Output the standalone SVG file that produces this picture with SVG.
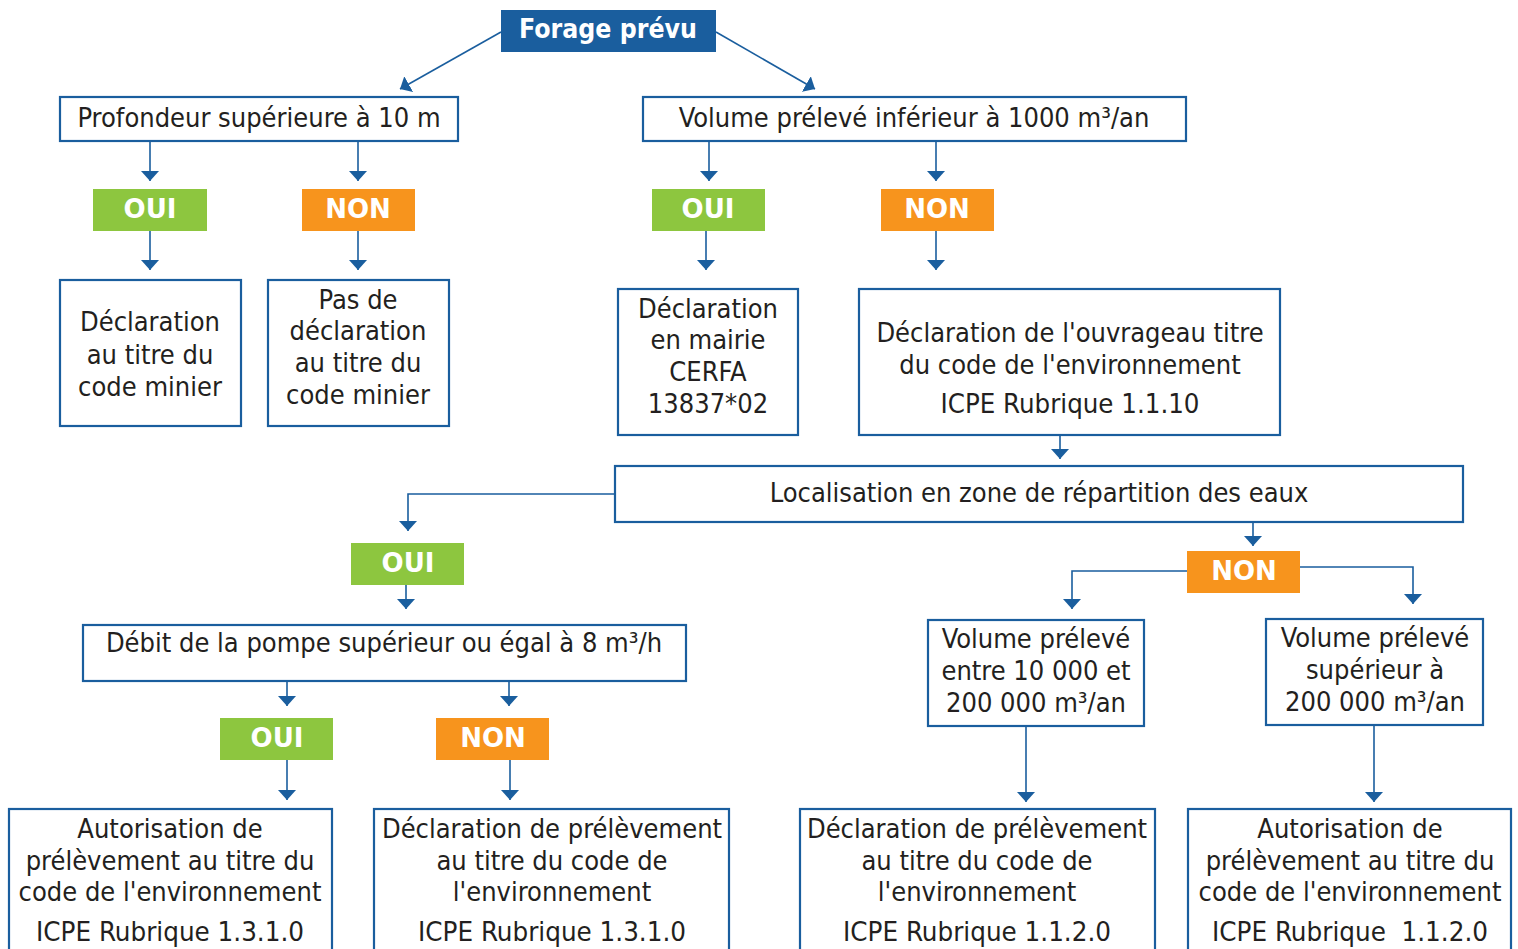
<svg xmlns="http://www.w3.org/2000/svg" width="1518" height="949" viewBox="0 0 1518 949">
<style>
.bx{fill:#fff;stroke:#1a5e9e;stroke-width:2.2}
.t{font-family:"DejaVu Sans Condensed","DejaVu Sans",sans-serif;font-stretch:condensed;font-size:27px;fill:#231f20;text-anchor:middle}
.lb{font-family:"DejaVu Sans","Liberation Sans",sans-serif;font-weight:bold;font-size:26px;fill:#fff;text-anchor:middle}
.oui{fill:#8dc63f}
.non{fill:#f7941d}
.cn{fill:none;stroke:#1a5e9e;stroke-width:1.6}
</style>
<defs>
<marker id="ah" viewBox="0 0 10 18" refX="10" refY="9" markerWidth="10" markerHeight="18" markerUnits="userSpaceOnUse" orient="auto">
<path d="M0,0 L10,9 L0,18 z" fill="#1a5e9e"/>
</marker>
</defs>
<rect width="1518" height="949" fill="#fff"/>
<g id="connectors" class="cn" marker-end="url(#ah)">
<path d="M501,32 L400,89"/>
<path d="M716,32 L815,89"/>
<path d="M150,141 V181"/>
<path d="M358,141 V181"/>
<path d="M150,231 V270"/>
<path d="M358,231 V270"/>
<path d="M709,141 V181"/>
<path d="M936,141 V181"/>
<path d="M706,231 V270"/>
<path d="M936,231 V270"/>
<path d="M1060,435 V459"/>
<path d="M615,494 H408 V531"/>
<path d="M406,585 V609"/>
<path d="M287,681 V706"/>
<path d="M509,681 V706"/>
<path d="M287,760 V800"/>
<path d="M510,760 V800"/>
<path d="M1253,522 V546"/>
<path d="M1187,571 H1072 V609"/>
<path d="M1300,567 H1413 V604"/>
<path d="M1026,726 V802"/>
<path d="M1374,725 V802"/>
</g>
<g id="forage">
<rect x="501" y="10" width="215" height="42" fill="#1a5e9e"/>
<text class="lb" x="608" y="38" textLength="178" lengthAdjust="spacingAndGlyphs">Forage prévu</text>
</g>
<g id="profondeur">
<rect class="bx" x="60" y="97" width="398" height="44"/>
<text class="t" x="259" y="127">Profondeur supérieure à 10 m</text>
</g>
<g id="volume">
<rect class="bx" x="643" y="97" width="543" height="44"/>
<text class="t" x="914" y="127">Volume prélevé inférieur à 1000 m³/an</text>
</g>
<g id="oui1"><rect class="oui" x="93" y="189" width="114" height="42"/><text class="lb" x="150" y="218">OUI</text></g>
<g id="non1"><rect class="non" x="302" y="189" width="113" height="42"/><text class="lb" x="358" y="218">NON</text></g>
<g id="oui2"><rect class="oui" x="652" y="189" width="113" height="42"/><text class="lb" x="708" y="218">OUI</text></g>
<g id="non2"><rect class="non" x="881" y="189" width="113" height="42"/><text class="lb" x="937" y="218">NON</text></g>
<g id="decl-minier">
<rect class="bx" x="60" y="280" width="181" height="146"/>
<text class="t" x="150" y="331">Déclaration</text>
<text class="t" x="150" y="364">au titre du</text>
<text class="t" x="150" y="396">code minier</text>
</g>
<g id="pas-decl">
<rect class="bx" x="268" y="280" width="181" height="146"/>
<text class="t" x="358" y="309">Pas de</text>
<text class="t" x="358" y="340">déclaration</text>
<text class="t" x="358" y="372">au titre du</text>
<text class="t" x="358" y="404">code minier</text>
</g>
<g id="mairie">
<rect class="bx" x="618" y="289" width="180" height="146"/>
<text class="t" x="708" y="318">Déclaration</text>
<text class="t" x="708" y="349">en mairie</text>
<text class="t" x="708" y="381">CERFA</text>
<text class="t" x="708" y="413">13837*02</text>
</g>
<g id="ouvrage">
<rect class="bx" x="859" y="289" width="421" height="146"/>
<text class="t" x="1070" y="342">Déclaration de l'ouvrageau titre</text>
<text class="t" x="1070" y="374">du code de l'environnement</text>
<text class="t" x="1070" y="413" textLength="259" lengthAdjust="spacingAndGlyphs">ICPE Rubrique 1.1.10</text>
</g>
<g id="localisation">
<rect class="bx" x="615" y="466" width="848" height="56"/>
<text class="t" x="1039" y="502">Localisation en zone de répartition des eaux</text>
</g>
<g id="oui3"><rect class="oui" x="351" y="543" width="113" height="42"/><text class="lb" x="408" y="572">OUI</text></g>
<g id="non3"><rect class="non" x="1187" y="551" width="113" height="42"/><text class="lb" x="1244" y="580">NON</text></g>
<g id="debit">
<rect class="bx" x="83" y="625" width="603" height="56"/>
<text class="t" x="384" y="652">Débit de la pompe supérieur ou égal à 8 m³/h</text>
</g>
<g id="oui4"><rect class="oui" x="220" y="718" width="113" height="42"/><text class="lb" x="277" y="747">OUI</text></g>
<g id="non4"><rect class="non" x="436" y="718" width="113" height="42"/><text class="lb" x="493" y="747">NON</text></g>
<g id="vol-10000">
<rect class="bx" x="928" y="620" width="216" height="106"/>
<text class="t" x="1036" y="648">Volume prélevé</text>
<text class="t" x="1036" y="680">entre 10 000 et</text>
<text class="t" x="1036" y="712">200 000 m³/an</text>
</g>
<g id="vol-200000">
<rect class="bx" x="1266" y="619" width="217" height="106"/>
<text class="t" x="1375" y="647">Volume prélevé</text>
<text class="t" x="1375" y="679">supérieur à</text>
<text class="t" x="1375" y="711">200 000 m³/an</text>
</g>
<g id="autorisation-1310">
<rect class="bx" x="9" y="809" width="323" height="160"/>
<text class="t" x="170" y="838">Autorisation de</text>
<text class="t" x="170" y="870">prélèvement au titre du</text>
<text class="t" x="170" y="901">code de l'environnement</text>
<text class="t" x="170" y="941" textLength="268" lengthAdjust="spacingAndGlyphs">ICPE Rubrique 1.3.1.0</text>
</g>
<g id="declaration-1310">
<rect class="bx" x="374" y="809" width="355" height="160"/>
<text class="t" x="552" y="838">Déclaration de prélèvement</text>
<text class="t" x="552" y="870">au titre du code de</text>
<text class="t" x="552" y="901">l'environnement</text>
<text class="t" x="552" y="941" textLength="268" lengthAdjust="spacingAndGlyphs">ICPE Rubrique 1.3.1.0</text>
</g>
<g id="declaration-1120">
<rect class="bx" x="800" y="809" width="355" height="160"/>
<text class="t" x="977" y="838">Déclaration de prélèvement</text>
<text class="t" x="977" y="870">au titre du code de</text>
<text class="t" x="977" y="901">l'environnement</text>
<text class="t" x="977" y="941" textLength="268" lengthAdjust="spacingAndGlyphs">ICPE Rubrique 1.1.2.0</text>
</g>
<g id="autorisation-1120">
<rect class="bx" x="1188" y="809" width="323" height="160"/>
<text class="t" x="1350" y="838">Autorisation de</text>
<text class="t" x="1350" y="870">prélèvement au titre du</text>
<text class="t" x="1350" y="901">code de l'environnement</text>
<text class="t" x="1350" y="941" xml:space="preserve" textLength="276" lengthAdjust="spacingAndGlyphs">ICPE Rubrique  1.1.2.0</text>
</g>
</svg>
